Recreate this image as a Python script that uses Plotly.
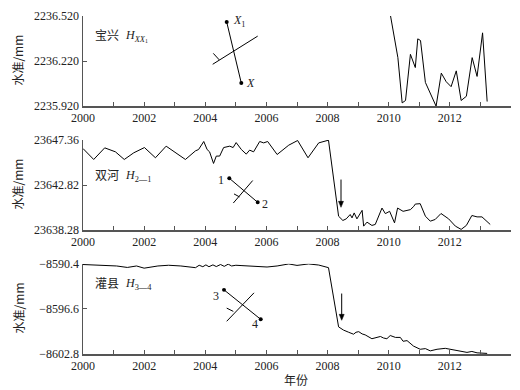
import plotly.graph_objects as go

# ---------------- data ----------------
years_bx = [2010.06, 2010.30, 2010.44, 2010.55, 2010.71, 2010.87, 2010.95, 2011.04, 2011.20,
            2011.55, 2011.72, 2011.88, 2012.04, 2012.21, 2012.37, 2012.54, 2012.73, 2012.89,
            2013.07, 2013.22]
vals_bx = [2236.520, 2236.243, 2235.942, 2235.958, 2236.265, 2236.177, 2236.368, 2236.357, 2236.078,
           2235.920, 2236.140, 2236.083, 2236.050, 2236.155, 2235.958, 2235.986, 2236.243, 2236.118,
           2236.408, 2235.951]

years_sh = [2000.00, 2000.35, 2000.71, 2001.06, 2001.35, 2001.66, 2002.01, 2002.37, 2002.72, 2003.08,
            2003.18, 2003.35, 2003.68, 2003.78, 2003.95, 2004.06, 2004.14, 2004.27, 2004.36, 2004.47,
            2004.60, 2004.80, 2004.91, 2005.01, 2005.18, 2005.34, 2005.45, 2005.58, 2005.78, 2005.91,
            2006.04, 2006.35, 2006.73, 2007.02, 2007.36, 2007.71, 2008.03, 2008.36, 2008.50, 2008.61,
            2008.74, 2008.80, 2008.87, 2008.96, 2009.13, 2009.18, 2009.29, 2009.45, 2009.56, 2009.78,
            2009.89, 2010.03, 2010.19, 2010.29, 2010.47, 2010.71, 2010.82, 2010.87, 2011.03, 2011.20,
            2011.36, 2011.52, 2011.71, 2011.96, 2012.18, 2012.37, 2012.54, 2012.72, 2012.89, 2013.05,
            2013.32]
vals_sh = [23646.49, 23645.39, 23646.56, 23646.16, 23645.39, 23646.06, 23646.59, 23645.56, 23646.73, 23645.93,
           23645.73, 23645.39, 23646.26, 23646.39, 23647.20, 23646.39, 23646.16, 23644.99, 23645.73, 23645.73,
           23646.59, 23646.73, 23646.59, 23647.09, 23646.39, 23645.93, 23646.33, 23646.16, 23647.20, 23647.06,
           23647.20, 23645.89, 23646.83, 23647.30, 23645.56, 23647.06, 23647.33, 23639.68, 23639.25, 23639.41,
           23639.85, 23639.51, 23640.01, 23639.41, 23640.27, 23638.68, 23639.08, 23638.75, 23638.85, 23640.50,
           23639.94, 23640.17, 23639.01, 23640.50, 23640.17, 23640.34, 23640.67, 23640.90, 23640.94, 23639.68,
           23639.18, 23639.35, 23639.95, 23639.41, 23638.68, 23638.35, 23638.75, 23639.75, 23639.61, 23639.61,
           23638.85]

years_gx = [2000.00, 2000.60, 2001.10, 2001.45, 2001.75, 2002.00, 2002.15, 2002.45, 2002.80, 2003.20,
            2003.68, 2003.80, 2003.92, 2004.02, 2004.12, 2004.25, 2004.36, 2004.50, 2004.62, 2004.75,
            2004.86, 2005.00, 2005.20, 2005.50, 2005.80, 2006.02, 2006.35, 2006.73, 2007.00, 2007.38,
            2007.71, 2008.03, 2008.36, 2008.52, 2008.69, 2008.85, 2008.93, 2009.02, 2009.13, 2009.23,
            2009.45, 2009.62, 2009.73, 2009.83, 2009.94, 2010.05, 2010.22, 2010.38, 2010.47, 2010.60,
            2010.71, 2010.81, 2011.03, 2011.20, 2011.36, 2011.58, 2011.85, 2012.01, 2012.23, 2012.56,
            2012.72, 2012.89, 2013.22]
vals_gx = [-8590.50, -8590.60, -8590.70, -8590.90, -8590.70, -8591.00, -8590.90, -8590.70, -8590.60, -8590.70,
           -8590.93, -8590.60, -8590.80, -8590.55, -8590.80, -8590.55, -8590.78, -8590.50, -8590.75, -8590.45,
           -8590.70, -8590.60, -8590.65, -8590.75, -8590.85, -8590.84, -8590.70, -8590.42, -8590.62, -8590.42,
           -8590.57, -8590.93, -8599.07, -8599.51, -8599.81, -8600.08, -8599.81, -8599.73, -8600.04, -8600.17,
           -8600.70, -8600.47, -8600.39, -8600.60, -8600.70, -8600.26, -8600.52, -8600.52, -8601.05, -8600.96,
           -8601.36, -8601.71, -8602.15, -8602.06, -8602.37, -8602.15, -8602.02, -8602.15, -8602.37, -8602.58,
           -8602.45, -8602.64, -8602.72]

x_ticks = [2000, 2002, 2004, 2006, 2008, 2010, 2012]
x_labels = ["2000", "2002", "2004", "2006", "2008", "2010", "2012"]

y_ticks_bx = [2235.920, 2236.220, 2236.520]
y_labels_bx = ["2235.920", "2236.220", "2236.520"]
y_ticks_sh = [23638.28, 23642.82, 23647.36]
y_labels_sh = ["23638.28", "23642.82", "23647.36"]
y_ticks_gx = [-8602.8, -8596.6, -8590.4]
y_labels_gx = ["\u22128602.8", "\u22128596.6", "\u22128590.4"]

# ---------------- layout helpers ----------------
W, H = 520, 390
ML, MR, MT, MB = 83, 9, 13, 36
PW = W - ML - MR
PH = H - MT - MB


def px(x):
    return (x - ML) / PW


def py(y):
    return (H - MB - y) / PH


FONT = "'Liberation Serif', 'Times New Roman', 'Noto Sans CJK SC', serif"
CJK = "'Noto Sans CJK SC', 'Liberation Serif', serif"
AX = "#555555"

h = 91 / PH
step = 125 / PH
domains = [[1 - h, 1.0], [1 - h - step, 1 - step], [1 - h - 2 * step, 1 - 2 * step]]

fig = go.Figure()
series = [(years_bx, vals_bx), (years_sh, vals_sh), (years_gx, vals_gx)]
for i, (xs, ys) in enumerate(series):
    sfx = "" if i == 0 else str(i + 1)
    fig.add_trace(go.Scatter(x=xs, y=ys, mode="lines", line=dict(color="black", width=1),
                             xaxis="x" + sfx, yaxis="y" + sfx, showlegend=False,
                             hoverinfo="skip"))

yranges = [(2235.920, 2236.520), (23638.28, 23647.36), (-8602.8, -8590.4)]
yticks = [(y_ticks_bx, y_labels_bx), (y_ticks_sh, y_labels_sh), (y_ticks_gx, y_labels_gx)]

layout = dict(width=W, height=H, margin=dict(l=ML, r=MR, t=MT, b=MB),
              paper_bgcolor="white", plot_bgcolor="white", showlegend=False,
              font=dict(family=FONT, size=12, color="#222"))
for i in range(3):
    sfx = "" if i == 0 else str(i + 1)
    layout["xaxis" + sfx] = dict(domain=[0, 1], range=[2000, 2014], anchor="y" + sfx,
                                 tickvals=x_ticks, ticktext=x_labels, ticks="inside", ticklen=4,
                                 tickcolor=AX, showline=True, linecolor=AX, linewidth=1.5,
                                 minor=dict(tick0=2000, dtick=1, ticks="inside", ticklen=4,
                                            tickcolor=AX, showgrid=False),
                                 showgrid=False, zeroline=False, tickfont=dict(size=12, family=FONT),
                                 fixedrange=True)
    layout["yaxis" + sfx] = dict(domain=domains[i], range=list(yranges[i]), anchor="x" + sfx,
                                 tickvals=yticks[i][0], ticktext=yticks[i][1], ticks="inside",
                                 ticklen=4, tickcolor=AX, showline=True, linecolor=AX,
                                 linewidth=1.5, showgrid=False, zeroline=False,
                                 tickfont=dict(size=12, family=FONT), fixedrange=True)
fig.update_layout(**layout)

shapes = []
annots = []


def seg(x0, y0, x1, y1, w=1):
    shapes.append(dict(type="line", xref="paper", yref="paper", x0=px(x0), y0=py(y0),
                       x1=px(x1), y1=py(y1), line=dict(color="black", width=w)))


def dot(x, y, r=2):
    shapes.append(dict(type="circle", xref="paper", yref="paper", x0=px(x - r), x1=px(x + r),
                       y0=py(y + r), y1=py(y - r), fillcolor="black", line=dict(color="black", width=0)))


def arrow_down(x, y0, y1):
    seg(x, y0, x, y1 - 3)
    path = "M {:.5f},{:.5f} L {:.5f},{:.5f} L {:.5f},{:.5f} Z".format(
        px(x - 2.5), py(y1 - 6), px(x + 2.5), py(y1 - 6), px(x), py(y1))
    shapes.append(dict(type="path", xref="paper", yref="paper", path=path, fillcolor="black",
                       line=dict(color="black", width=0.5)))


def text(x, y, t, size=12, family=FONT, xanchor="center"):
    annots.append(dict(xref="paper", yref="paper", x=px(x), y=py(y), text=t, showarrow=False,
                       font=dict(size=size, family=family, color="#222"), xanchor=xanchor,
                       yanchor="middle"))


# panel 1 inset
seg(226.7, 19, 241.3, 80.7)
seg(212.7, 61.7, 257.7, 33.3)
seg(219.3, 57.3, 213.3, 50.7)
dot(226.7, 19)
dot(241.3, 80.7)
text(231, 18, "<i>X</i><sub>1</sub>", xanchor="left")
text(244, 81, "<i>X</i>", xanchor="left")

# panel 2 inset
seg(229.3, 176.7, 257.7, 201)
seg(233.3, 201.7, 252.7, 179)
seg(234, 192.5, 239.5, 195.5)
dot(229.3, 176.7)
dot(257.7, 201)
text(226, 178, "1", xanchor="right")
text(260, 203, "2", xanchor="left")

# panel 3 inset
seg(224, 289.3, 260.7, 319)
seg(226.7, 321, 254, 292.3)
seg(226.7, 307.7, 233.3, 311)
dot(224, 289.3)
dot(260.7, 319)
text(221, 295.5, "3", xanchor="right")
text(255, 324, "4", xanchor="center")

# arrows
arrow_down(341, 178, 206)
arrow_down(341.7, 293, 320)

# station labels
text(93, 32, "宝兴", size=12, family=CJK, xanchor="left")
text(123, 33, "<i>H</i><sub><i>XX</i><sub>1</sub></sub>", xanchor="left")
text(93, 173, "双河", size=12, family=CJK, xanchor="left")
text(123, 174, "<i>H</i><sub>2—1</sub>", xanchor="left")
text(93, 282, "灌县", size=12, family=CJK, xanchor="left")
text(123, 283, "<i>H</i><sub>3—4</sub>", xanchor="left")

# axis titles
for yc in [58, 183, 308]:
    annots.append(dict(xref="paper", yref="paper", x=px(18), y=py(yc), text="水准/mm",
                       textangle=-90, showarrow=False, font=dict(size=12, family=CJK, color="#222"),
                       xanchor="center", yanchor="middle"))
annots.append(dict(xref="paper", yref="paper", x=px(296), y=py(380), text="年份", showarrow=False,
                   font=dict(size=12, family=CJK, color="#222"), xanchor="center", yanchor="middle"))

fig.update_layout(shapes=shapes, annotations=annots)
fig.write_html("out.html", config={"displayModeBar": False, "staticPlot": True},
               post_script="document.body.style.margin='0';document.body.style.overflow='hidden';"
                           "document.documentElement.style.overflow='hidden';")
